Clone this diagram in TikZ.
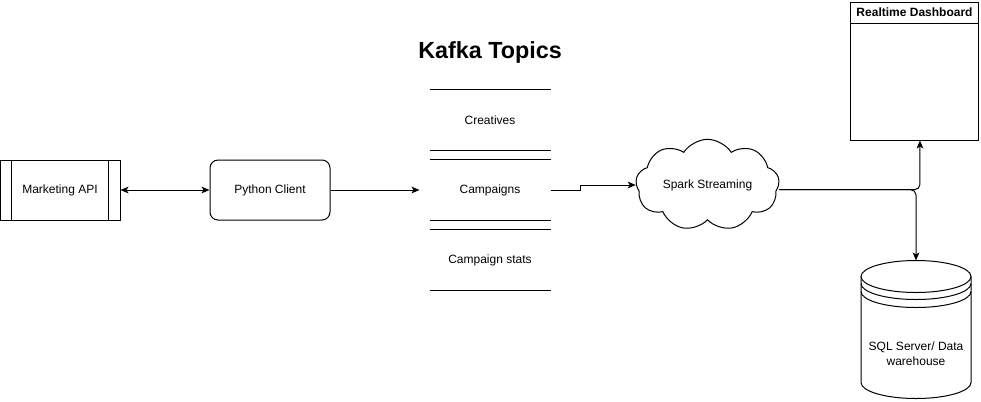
\documentclass[tikz,border=0pt]{standalone}
\usepackage{fontspec}
\setmainfont{Liberation Sans}
\usepackage{tikz}
\usetikzlibrary{arrows.meta,shapes,shapes.symbols}

\begin{document}
\begin{tikzpicture}[->,>={Stealth[length=6pt,width=5pt,inset=1.5pt]},x=0.75pt,y=-0.75pt,line width=0.75pt,
                    node distance=165pt,font=\fontsize{9pt}{11pt}\selectfont]
  \tikzstyle{box}=[draw,rectangle,minimum width=90pt,minimum height=45pt]
  \tikzstyle{topic}=[rectangle,minimum width=90pt,minimum height=45pt]
  \tikzstyle{link}=[->]

  \useasboundingbox (0,0) rectangle (981,401);

  \node[box]           (mapi)   at (60,190)                            {Marketing API};
  \node[box,rounded corners=6pt] (pyc) [right of=mapi,node distance=157.5pt] {Python Client};
  \node[topic]         (camp)   [right of=pyc]                         {Campaigns};
  \node[topic]         (creat)  [above of=camp,node distance=52.5pt]   {Creatives};
  \node[topic]         (cstat)  [below of=camp,node distance=52.5pt]   {Campaign stats};
  \node                (kafka)  [above of=creat,node distance=51pt]
                       {\fontsize{17.5pt}{20pt}\selectfont\bfseries Kafka Topics};
  \node[draw,cloud,cloud puffs=9,cloud puff arc=115,aspect=2,
        minimum width=92pt,minimum height=56pt]
                       (spark)  at (707.5,185)                         {Spark Streaming};
  \node[box,minimum width=96pt,minimum height=103.5pt]
                       (dash)   at (914.5,71)                          {};
  \node[draw,anchor=north,minimum width=96pt,minimum height=15.75pt,font=\fontsize{9pt}{11pt}\selectfont\bfseries]
                       (dtitle) at (dash.north)                       {Realtime Dashboard};
  \node[rectangle,minimum width=82.5pt,minimum height=103.5pt]
                       (sql)    at (916,330)                           {};
  \node[align=center]  (sqltxt) [below of=sql,node distance=18pt]      {SQL Server/ Data\\warehouse};

  % side bars of the api box
  \draw[-] ([xshift=9pt]mapi.north west) -- ([xshift=9pt]mapi.south west)
           ([xshift=-9pt]mapi.north east) -- ([xshift=-9pt]mapi.south east);

  % topic borders
  \foreach \t in {creat,camp,cstat}
    \draw[-] (\t.north west) -- (\t.north east) (\t.south west) -- (\t.south east);

  % data store
  \draw[-] (sql.north) ++(0,16) ellipse [x radius=41.25pt,y radius=12pt];
  \draw[-] (sql.north) ++(-55,16) -- ++(0,106) arc [start angle=180,end angle=360,x radius=41.25pt,y radius=12pt]
           -- ++(0,-106);
  \draw[-] (sql.north) ++(-55,23) arc [start angle=180,end angle=360,x radius=41.25pt,y radius=12pt];
  \draw[-] (sql.north) ++(-55,31) arc [start angle=180,end angle=360,x radius=41.25pt,y radius=12pt];

  \path (mapi) edge[<->]                    node {} (pyc)
        (pyc)  edge[shorten >=7.5pt]        node {} (camp);
  \draw[link] (camp.east) -- ++(30,0) |- (spark.west);
  \draw[link,rounded corners=4pt] ([yshift=-3.5pt]spark.east) -| ([xshift=4.1pt]dash.south);
  \draw[link,rounded corners=4pt] ([yshift=-3.5pt]spark.east) -| (sql.north);
\end{tikzpicture}
\end{document}
